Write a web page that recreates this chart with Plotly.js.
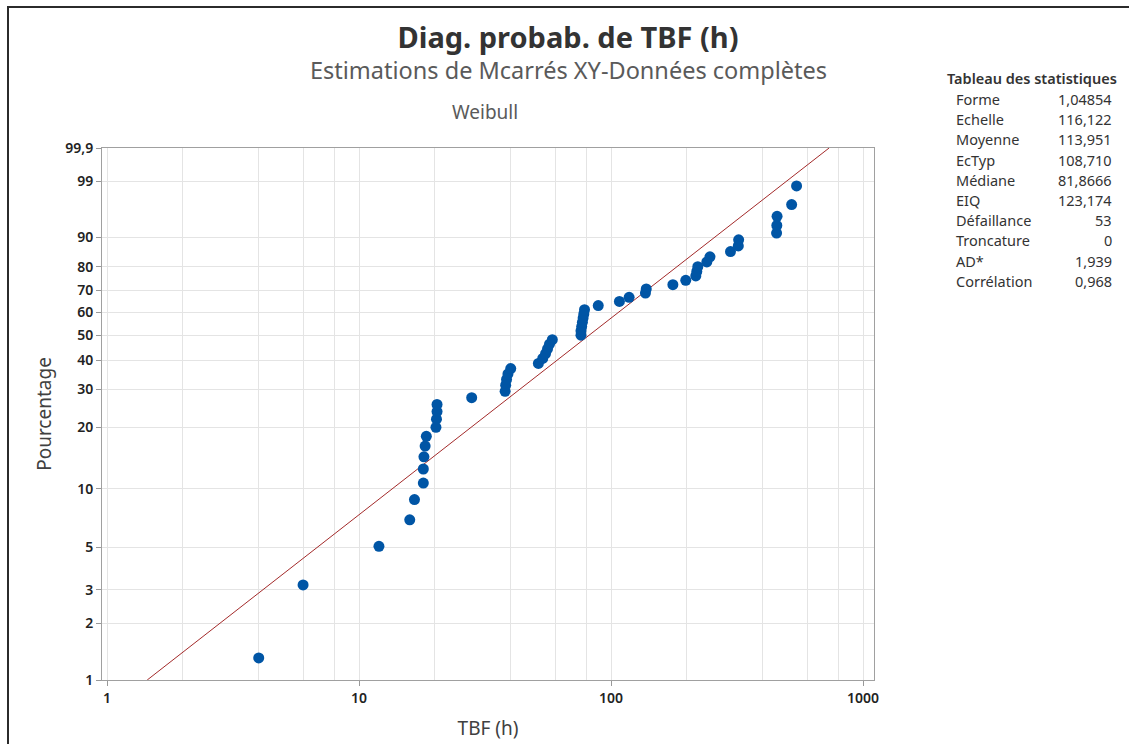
<!DOCTYPE html>
<html>
<head>
<meta charset="utf-8">
<script src="https://cdn.plot.ly/plotly-3.0.1.min.js"></script>
<style>
  html, body { margin: 0; padding: 0; background: #fff; }
  #frame { position: absolute; left: 7px; top: 6px; width: 1122px; height: 738px;
           border-left: 2px solid #2b2b2b; border-top: 2px solid #2b2b2b; box-sizing: border-box; pointer-events: none; z-index: 5; }
  #chart { width: 1129px; height: 744px; }
</style>
</head>
<body>
<div id="chart"></div>
<div id="frame"></div>
<script>
// ---- Data ----
const tbfHours = [4.0, 6.0, 12.0, 15.9, 16.6, 18.0, 18.0, 18.1, 18.3, 18.5,
                  20.2, 20.3, 20.4, 20.4, 28.0, 38.0, 38.2, 38.5, 39.0, 40.0,
                  51.5, 53.6, 55.0, 56.0, 57.0, 58.5, 76.0, 76.0, 76.5, 77.0,
                  77.5, 78.0, 78.5, 89.0, 108, 118, 137, 138, 176, 198,
                  217, 219, 221, 240, 247, 298, 320, 321, 454, 455,
                  456, 521, 545];
const percentages = [1.31, 3.18, 5.06, 6.93, 8.80, 10.67, 12.55, 14.42, 16.29, 18.16,
                     20.04, 21.91, 23.78, 25.66, 27.53, 29.40, 31.27, 33.15, 35.02, 36.89,
                     38.76, 40.64, 42.51, 44.38, 46.25, 48.13, 50.00, 51.87, 53.75, 55.62,
                     57.49, 59.36, 61.24, 63.11, 64.98, 66.85, 68.73, 70.60, 72.47, 74.34,
                     76.22, 78.09, 79.96, 81.84, 83.71, 85.58, 87.45, 89.33, 91.20, 93.07,
                     94.94, 96.82, 98.69];
const fitTBF = [1.444, 733.5];
const fitPct = [1, 99.9];
const yTickPct = [1, 2, 3, 5, 10, 20, 30, 40, 50, 60, 70, 80, 90, 99, 99.9];
const yTickText = ['1', '2', '3', '5', '10', '20', '30', '40', '50', '60', '70', '80', '90', '99', '99,9'];
const xTickVals = [1, 10, 100, 1000];
const xTickText = ['1', '10', '100', '1000'];
const xMinorGrid = [2, 4, 6, 8, 20, 40, 60, 80, 200, 400, 600, 800];
const statLabels = ['Forme', 'Echelle', 'Moyenne', 'EcTyp', 'Médiane', 'EIQ', 'Défaillance', 'Troncature', 'AD*', 'Corrélation'];
const statValues = ['1,04854', '116,122', '113,951', '108,710', '81,8666', '123,174', '53', '0', '1,939', '0,968'];
const titleText = 'Diag. probab. de TBF (h)';
const subtitleText = 'Estimations de Mcarrés XY-Données complètes';
const distText = 'Weibull';
const tableTitle = 'Tableau des statistiques';

// Weibull probability scale
const wb = p => Math.log(-Math.log(1 - p / 100));

// ---- Layout geometry ----
const FW = 1129, FH = 744;
const L = 102, R = 874, T = 148, B = 680;
const PW = R - L, PH = B - T;
const px = x => (x - L) / PW;
const py = y => (B - y) / PH;

const FONT = '"Noto Sans", "Open Sans", sans-serif';

const traces = [
  {
    x: fitTBF, y: fitPct.map(wb), type: 'scatter', mode: 'lines',
    line: { color: '#a32a2a', width: 1 }, hoverinfo: 'skip', showlegend: false
  },
  {
    x: tbfHours, y: percentages.map(wb), type: 'scatter', mode: 'markers',
    marker: { color: '#0055a5', size: 11 }, showlegend: false
  }
];

const annotations = [
  { text: subtitleText, xref: 'paper', yref: 'paper', x: px(568), y: py(70), xanchor: 'center', yanchor: 'middle',
    showarrow: false, font: { family: FONT, size: 23.5, color: '#5a5a5a' } },
  { text: distText, xref: 'paper', yref: 'paper', x: px(485), y: py(112), xanchor: 'center', yanchor: 'middle',
    showarrow: false, font: { family: FONT, size: 19, color: '#5a5a5a' } },
  { text: tableTitle, xref: 'paper', yref: 'paper', x: px(945), y: py(78), xanchor: 'left', yanchor: 'middle',
    showarrow: false, font: { family: FONT, size: 14.5, color: '#333', weight: 600 } }
];
statLabels.forEach((lab, i) => {
  const yy = 99 + i * 20.2;
  annotations.push({ text: lab, xref: 'paper', yref: 'paper', x: px(954), y: py(yy), xanchor: 'left', yanchor: 'middle',
    showarrow: false, font: { family: FONT, size: 14.5, color: '#333' } });
  annotations.push({ text: statValues[i], xref: 'paper', yref: 'paper', x: px(1114), y: py(yy), xanchor: 'right', yanchor: 'middle',
    showarrow: false, font: { family: FONT, size: 14.5, color: '#333' } });
});

const layout = {
  width: FW, height: FH,
  margin: { l: L, r: FW - R, t: T, b: FH - B, pad: 0 },
  paper_bgcolor: '#fff', plot_bgcolor: '#fff',
  font: { family: FONT, color: '#333' },
  title: { text: titleText, xref: 'container', yref: 'container', x: 568 / FW, y: 1 - 38 / FH,
           xanchor: 'center', yanchor: 'middle', font: { family: FONT, size: 29, color: '#333', weight: 700 } },
  xaxis: {
    type: 'log', range: [Math.log10(1) - (107 - L) / 252, 3 + (R - 863) / 252],
    tickmode: 'array', tickvals: xTickVals, ticktext: xTickText,
    ticks: 'outside', ticklen: 5, tickcolor: '#999', tickwidth: 1,
    tickfont: { family: FONT, size: 14, color: '#222', weight: 600 },
    showgrid: true, gridcolor: '#e4e4e4', gridwidth: 1,
    minor: { tickvals: xMinorGrid, showgrid: true, gridcolor: '#e4e4e4', gridwidth: 1, ticks: '' },
    showline: true, linecolor: '#a0a0a0', linewidth: 1, mirror: true, zeroline: false,
    title: { text: 'TBF (h)', font: { family: FONT, size: 19, color: '#404040' }, standoff: 15 },
    automargin: false
  },
  yaxis: {
    range: [wb(1), wb(99.9)],
    tickmode: 'array', tickvals: yTickPct.map(wb), ticktext: yTickText,
    ticks: 'outside', ticklen: 5, tickcolor: '#999', tickwidth: 1,
    tickfont: { family: FONT, size: 14, color: '#222', weight: 600 },
    showgrid: true, gridcolor: '#e4e4e4', gridwidth: 1,
    showline: true, linecolor: '#a0a0a0', linewidth: 1, mirror: true, zeroline: false,
    title: { text: 'Pourcentage', font: { family: FONT, size: 19, color: '#404040' }, standoff: 8 },
    automargin: false
  },
  annotations: annotations,
  showlegend: false
};

Plotly.newPlot('chart', traces, layout, { displayModeBar: false, staticPlot: true });
</script>
</body>
</html>
